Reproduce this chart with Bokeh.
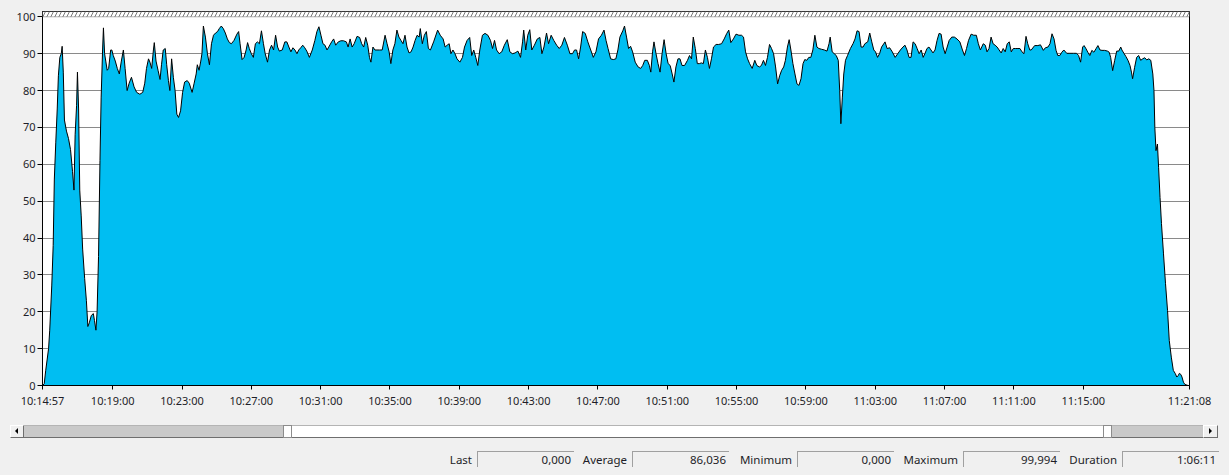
from bokeh.plotting import figure
from bokeh.models import Range1d, FixedTicker, BoxAnnotation, ColumnDataSource, Div
from bokeh.layouts import column
from bokeh.embed import file_html
from bokeh.resources import INLINE

# ---------------- data ----------------
start_clock = "10:14:57"
end_clock = "11:21:08"
x_tick_labels = ["10:14:57", "10:19:00", "10:23:00", "10:27:00", "10:31:00", "10:35:00",
                 "10:39:00", "10:43:00", "10:47:00", "10:51:00", "10:55:00", "10:59:00",
                 "11:03:00", "11:07:00", "11:11:00", "11:15:00", "11:21:08"]
y_ticks = [0, 10, 20, 30, 40, 50, 60, 70, 80, 90, 100]

elapsed_s = [
    0, 6, 11, 21, 25, 32, 37, 41, 46, 51, 55, 60, 65, 68, 72, 76, 83, 90, 97, 104,
    109, 113, 118, 121, 125, 129, 134, 139, 146, 152, 157, 162, 169, 176, 180, 185, 189, 194, 199, 203,
    208, 211, 215, 219, 224, 229, 236, 240, 245, 252, 259, 266, 273, 280, 286, 293, 300,
    308, 317, 326, 337, 347, 354, 360, 367, 372, 378, 384, 387, 393, 400, 407, 412, 418, 425, 430,
    436, 441, 447, 453, 459, 465, 471, 478, 485, 492, 501, 508, 518, 525, 532, 536, 542, 548, 552,
    557, 564, 571, 578, 585, 592, 599, 606, 612, 619, 626, 633, 640, 647, 654, 663, 673, 679, 684,
    691, 698, 705, 710, 716, 723, 730, 737, 744, 751, 758, 765, 771, 779, 786, 793, 800, 807, 814,
    820, 830, 839, 846, 853, 860, 867, 874, 881, 887, 894, 901, 908, 915, 924, 934, 943, 950, 957,
    964, 971, 978, 985, 991, 1001, 1008, 1015, 1024, 1033, 1042, 1052, 1058, 1065, 1072, 1079, 1089,
    1098, 1105, 1112, 1119, 1126, 1132, 1137, 1144, 1151, 1158, 1167, 1176, 1186, 1193, 1200, 1206,
    1213, 1220, 1227, 1234, 1241, 1248, 1255, 1262, 1269, 1276, 1283, 1290, 1297, 1304, 1308, 1315,
    1322, 1329, 1336, 1343,
    1354, 1368, 1377, 1387, 1394, 1401, 1408, 1414, 1421, 1428, 1435, 1445, 1454, 1461, 1470, 1479,
    1486, 1493, 1500, 1507, 1514, 1523, 1532, 1542, 1551, 1558, 1565, 1572, 1581, 1590, 1599, 1609,
    1618, 1627, 1636, 1646, 1655, 1662, 1666, 1673, 1680, 1687, 1694, 1703, 1713, 1722, 1729, 1736,
    1745, 1752, 1761, 1770, 1780, 1789, 1798, 1807, 1817, 1826, 1835, 1842, 1849, 1856, 1863, 1870,
    1879, 1888, 1898, 1907, 1916, 1925, 1935, 1944, 1951, 1958, 1967, 1976, 1985, 1992, 1999, 2009,
    2015, 2022, 2029, 2036, 2043, 2052, 2062, 2071, 2078, 2085, 2094, 2101, 2106, 2112, 2117, 2124,
    2131, 2138, 2145, 2152, 2159, 2166, 2173, 2180, 2186, 2193, 2200, 2207, 2214, 2223, 2233, 2240,
    2247, 2253, 2260, 2267, 2274, 2281, 2288, 2295, 2302, 2309, 2316, 2323, 2332, 2341, 2351, 2360,
    2369, 2376, 2383,
    2392, 2401, 2411, 2420, 2427, 2434, 2441, 2448, 2457, 2466, 2473, 2482, 2489, 2496, 2503, 2510,
    2517, 2524, 2531, 2538, 2545, 2552, 2559, 2566, 2572, 2579, 2585, 2591, 2598, 2605, 2612, 2619,
    2626, 2633, 2639, 2646, 2653, 2660, 2667, 2674, 2681, 2688, 2697, 2707, 2716, 2723, 2727, 2734,
    2741, 2748, 2755, 2760, 2764, 2769, 2774, 2780, 2787, 2797, 2806, 2813, 2820, 2827, 2834, 2841,
    2847, 2857, 2864, 2871, 2878, 2884, 2891, 2898, 2905, 2917, 2924, 2933, 2942, 2952, 2961, 2970,
    2979, 2986, 2993, 3000, 3007, 3014, 3021, 3028, 3035, 3042, 3049, 3055, 3062, 3069, 3076, 3083,
    3090, 3097, 3104, 3111, 3118, 3125, 3132, 3139, 3148, 3157, 3166, 3176, 3185, 3192, 3199, 3206,
    3215, 3224, 3233, 3240, 3247, 3257, 3264, 3270, 3277, 3284, 3291, 3298, 3305, 3312, 3319, 3326,
    3333, 3340, 3347, 3354, 3361, 3368, 3377, 3384, 3391, 3398, 3405, 3411, 3418, 3423,
    3435, 3446, 3455, 3465, 3472, 3481, 3488, 3495, 3502, 3509, 3515, 3522, 3529, 3536, 3546, 3557,
    3569, 3580, 3587, 3594, 3601, 3606, 3613, 3619, 3626, 3633, 3640, 3647, 3654, 3661, 3668, 3677,
    3687, 3693, 3698, 3705, 3712, 3719, 3726, 3733, 3737, 3744, 3751, 3758, 3765, 3770, 3774, 3781,
    3788, 3795, 3802, 3809, 3816, 3823, 3830, 3837, 3844, 3848, 3851, 3855, 3860, 3864, 3869, 3874,
    3881, 3888, 3895, 3901, 3908, 3915, 3922, 3927, 3932, 3936, 3941, 3945, 3950, 3955, 3966, 3971,
]

cpu_pct = [
    0, 0.5, 4, 10, 15, 27, 38, 56, 66, 75, 84, 89, 90, 92, 85, 72, 69, 67, 64, 58,
    53, 68, 76, 85, 75, 53, 46, 37, 29, 23, 16, 17, 19, 19.5, 17.6, 15, 20, 35, 61, 78,
    91, 97, 90, 88, 85.5, 86, 91, 91, 89.5, 88, 86, 84.5, 88, 91, 86, 80, 82,
    83.6, 81, 79.5, 79, 79.5, 82, 86, 88.6, 87.7, 86, 91, 93, 88, 85.5, 83, 87, 91, 91.4, 87,
    82.7, 80, 88.6, 83.6, 80, 73.6, 72.7, 74.5, 79.5, 82.3, 82.7, 82, 79.5, 82, 84.5, 87, 85.5, 88, 90,
    97.5, 94.5, 90, 87, 92.7, 95, 95.6, 96, 96.8, 97.5, 96.8, 95.6, 94, 93, 92.7, 93.6, 95.3, 96, 92.7,
    88.4, 89, 91, 93, 91.4, 90, 89, 92.7, 93.2, 92.7, 96.2, 92.7, 90, 87.7, 91, 92.3, 91, 95, 91.8,
    90.7, 91, 93.2, 93.2, 91.8, 90.5, 91.6, 91, 90, 91, 91.6, 92.3, 91.6, 90.7, 89, 91, 93.6, 96, 97.3,
    95, 92.7, 92.3, 91, 91.8, 93.2, 94, 92.3, 93.2, 93.5, 93.5, 93.2, 91.8, 94, 91.8, 92.7, 94.7,
    94.4, 92.7, 91.8, 94.4, 92.3, 89, 87.7, 91.8, 91, 91, 91, 91, 95, 92.7, 90.5, 87.3,
    91, 92.7, 96.4, 94.5, 93.6, 92.7, 95, 91.8, 90.2, 90.5, 91.8, 93.6, 95, 94.5, 96.8, 92.7,
    95, 96, 91.4, 91,
    93.2, 96.4, 95, 94, 91.8, 92.3, 92.7, 90, 91, 90, 88.6, 87.7, 89, 91.8, 93.6, 94.4,
    89.5, 91, 89, 86.8, 91, 95, 95.5, 95, 93.6, 91.4, 93.6, 91, 90, 90.5, 92.3, 93.8,
    90.5, 90, 90.2, 90.7, 89, 93.2, 96.4, 91, 95, 96.5, 91, 92.3, 94, 94.4, 90, 91.8,
    95.6, 92.7, 95, 93.6, 92.3, 91.4, 92.3, 94.4, 92.3, 90, 90, 91, 91, 88.6, 91.8, 96,
    95.5, 93.2, 91, 89, 90.5, 94, 95, 96.4, 93.6, 91.4, 88.6, 88.4, 88.6, 91, 94.5, 96.2,
    97.5, 94.5, 91.4, 92, 90.5, 87.7, 86.4, 86, 86.8, 88.2, 88.2, 86.8, 85, 90.5, 93.2, 90,
    87.3, 85, 90, 93.8, 90, 87.3, 86.8, 84.5, 82.3, 86.4, 88.6, 88.6, 86.8, 86.8, 88.2, 89.5,
    88.6, 94.5, 91.4, 87.3, 87.3, 87.5, 87.3, 91, 89, 86, 88.6, 91.8, 92.5, 92.5, 92.7, 94,
    95.5, 96.4, 93,
    94, 95.3, 95, 95, 94.5, 90.5, 88.6, 87.3, 86, 88.2, 86.8, 86.4, 86.8, 88.2, 86.8, 89,
    92.5, 91.4, 90, 86.4, 81.8, 84, 85.5, 86.4, 88.2, 91.8, 93.8, 91, 87.3, 84.5, 81.8, 81.4,
    83.2, 87.3, 88.4, 88.2, 89, 89, 91, 95, 91.8, 91.4, 91.2, 91, 90.7, 92.7, 94.5, 90.5,
    90, 89.5, 88.2, 80, 71, 78, 84.5, 88.2, 89.5, 91.4, 92.7, 94, 96.2, 96, 91.8, 91.8,
    92.7, 93.2, 95.6, 93.2, 91, 90.5, 89, 90, 91.8, 93.2, 91.4, 91.6, 90.5, 89, 90, 91,
    91.8, 92.3, 91, 89, 89, 93.2, 92.7, 91.4, 90, 91, 89, 90, 91.4, 91.8, 91, 90.2,
    91, 93.6, 95.5, 95.3, 91.8, 90, 91.8, 93.6, 94.5, 94.5, 94, 93.2, 91, 89.5, 91.4, 93.6,
    95.3, 95, 95, 92.7, 91, 92.7, 92.3, 90.5, 91.4, 94.5, 92.7, 92.3, 91.8, 91, 90.2, 91.4,
    90.5, 92.7, 93.2, 90.5, 91.4, 91.4, 91.4, 91.4, 90.5, 90, 94.7, 92.7, 91, 91,
    92.2, 92.2, 92.4, 90.9, 91.6, 91.8, 92.7, 95.4, 94, 90.9, 89.5, 89.5, 90.4, 91, 90.1, 90.1,
    90.1, 90.1, 89.5, 87.7, 91.8, 92.2, 91.3, 90.4, 89.5, 90.9, 90.4, 91.3, 92.2, 91, 90.9, 90.9,
    90.7, 90.4, 89, 85.4, 88.2, 90.7, 90.7, 91.8, 91, 90.1, 89.2, 88.2, 86.8, 85, 83.2, 86.3,
    89, 89.5, 88.2, 88.6, 88.9, 88.3, 88.6, 88.2, 84.5, 80, 70, 63.7, 65.5, 59.2, 51, 43.9,
    35.7, 27.6, 20.3, 12.2, 7.7, 4.1, 3.2, 2.3, 2.7, 3.3, 3, 2.3, 0.9, 0.3, 0, 0,
]

stat_names = ["Last", "Average", "Minimum", "Maximum", "Duration"]
stat_values = ["0,000", "86,036", "0,000", "99,994", "1:06:11"]

# ---------------- helpers ----------------
def clock_to_s(c):
    h, m, s = (int(v) for v in c.split(":"))
    return h * 3600 + m * 60 + s

t0 = clock_to_s(start_clock)
x_end = clock_to_s(end_clock) - t0
tick_pos = [clock_to_s(lbl) - t0 for lbl in x_tick_labels]

FONT = "Noto Sans"
BG = "#f0f0f0"
TXT = "#1e1e28"

# ---------------- main chart ----------------
src = ColumnDataSource(data=dict(t=elapsed_s, v=cpu_pct))

p = figure(width=1213, height=402, output_backend="svg", toolbar_location=None,
           x_range=Range1d(0, x_end), y_range=Range1d(0, 101.44),
           min_border_left=34, min_border_right=32, min_border_top=3, min_border_bottom=25)
p.background_fill_color = "white"
p.border_fill_color = BG
p.outline_line_color = "black"
p.outline_line_width = 1

p.xgrid.visible = False
p.ygrid.ticker = FixedTicker(ticks=y_ticks[1:-1])
p.ygrid.grid_line_color = "#8a8a8a"
p.ygrid.grid_line_width = 1

p.varea(x="t", y1=0, y2="v", source=src, fill_color="#00bef2", fill_alpha=1)
p.line(x="t", y="v", source=src, line_color="black", line_width=1)

band = BoxAnnotation(bottom=100, fill_color="white", fill_alpha=1,
                     hatch_pattern="/", hatch_color="#7a7a7a", hatch_scale=8,
                     hatch_weight=1, line_color="black", line_width=1)
p.add_layout(band)

p.xaxis.ticker = FixedTicker(ticks=tick_pos)
p.xaxis.major_label_overrides = {pos: lbl for pos, lbl in zip(tick_pos, x_tick_labels)}
p.yaxis.ticker = FixedTicker(ticks=y_ticks)
for ax in (p.xaxis[0], p.yaxis[0]):
    ax.axis_line_color = "black"
    ax.major_tick_line_color = "black"
    ax.minor_tick_line_color = None
    ax.major_tick_in = 0
    ax.major_label_text_font = FONT
    ax.major_label_text_font_size = "11px"
    ax.major_label_text_color = TXT
p.xaxis.major_tick_out = 4
p.xaxis.major_label_standoff = 3
p.yaxis.major_tick_out = 5
p.yaxis.major_label_standoff = 2

# ---------------- scroll bar + status line (HTML strip under the chart) ----------------
def box(left, top, width, height, extra=""):
    return (f'<div style="position:absolute;left:{left}px;top:{top}px;width:{width}px;'
            f'height:{height}px;box-sizing:border-box;{extra}"></div>')

parts = []
# track (page x 24..1203, page y 425..438)
parts.append(box(16, 15, 1179, 13, "background:#ffffff;border-top:1px solid #b4b4b4;border-bottom:1px solid #6e6e6e;"))
parts.append(box(16, 16, 259, 11, "background:#c9c9c9;"))
parts.append(box(1104, 16, 91, 11, "background:#c9c9c9;"))
parts.append(box(275, 15, 9, 13, "background:#ffffff;border:1px solid #8c8c8c;"))
parts.append(box(1095, 15, 9, 13, "background:#ffffff;border:1px solid #8c8c8c;"))
# arrow buttons
btn = "background:#f0f0f0;border-top:1px solid #ffffff;border-left:1px solid #ffffff;border-right:1px solid #6e6e6e;border-bottom:1px solid #6e6e6e;"
parts.append(box(2, 15, 14, 13, btn))
parts.append(box(1195, 15, 15, 13, btn))
parts.append('<div style="position:absolute;left:7px;top:18px;width:0;height:0;'
             'border-top:3px solid transparent;border-bottom:3px solid transparent;'
             'border-right:3px solid #000000;"></div>')
parts.append('<div style="position:absolute;left:1201px;top:18px;width:0;height:0;'
             'border-top:3px solid transparent;border-bottom:3px solid transparent;'
             'border-left:3px solid #000000;"></div>')

# status boxes (page x of box left edges)
box_left = [477, 632, 797, 963, 1122]
box_w = 97
for name, val, bl in zip(stat_names, stat_values, box_left):
    x = bl - 8
    parts.append(f'<div style="position:absolute;left:{x - 90}px;top:42px;width:85px;height:16px;'
                 f'line-height:16px;text-align:right;white-space:nowrap;">{name}</div>')
    parts.append(f'<div style="position:absolute;left:{x}px;top:41px;width:{box_w}px;height:20px;'
                 f'box-sizing:border-box;border-top:1px solid #a0a0a0;border-left:1px solid #a0a0a0;"></div>')
    parts.append(f'<div style="position:absolute;left:{x}px;top:42px;width:{box_w - 3}px;height:16px;'
                 f'line-height:16px;text-align:right;white-space:nowrap;">{val}</div>')

strip_html = (f'<div style="position:relative;width:1213px;height:57px;overflow:hidden;'
              f'background:{BG};font-family:\'{FONT}\';font-size:11.5px;color:{TXT};">'
              + "".join(parts) + '</div>')
strip = Div(text=strip_html, width=1213, height=57, margin=0)

layout = column(p, strip, spacing=0)
html = file_html(layout, INLINE, title="chart")
html = html.replace("</head>", "<style>body{margin:8px;background:#f0f0f0;}</style></head>", 1)
open("out.html", "w").write(html)
